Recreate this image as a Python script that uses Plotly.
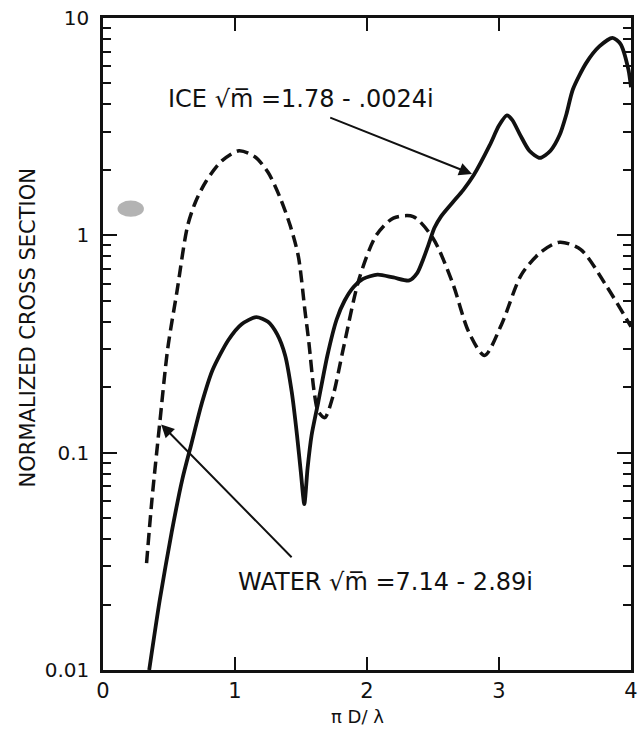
import numpy as np
import plotly.graph_objects as go

# ---- data ----
ice_x = [0.35, 0.43, 0.52, 0.60, 0.67, 0.75, 0.83, 0.95, 1.05, 1.16, 1.25, 1.32, 1.38, 1.43, 1.47, 1.50,
         1.525, 1.55, 1.58, 1.63, 1.70, 1.77, 1.83, 1.90, 1.97, 2.08, 2.20, 2.32, 2.38, 2.42, 2.47,
         2.51, 2.56, 2.65, 2.73, 2.81, 2.93, 3.00, 3.06, 3.10, 3.16, 3.23, 3.31, 3.39, 3.46, 3.51,
         3.56, 3.66, 3.76, 3.86, 3.92, 3.98, 4.00]
ice_y = [0.010, 0.021, 0.043, 0.075, 0.11, 0.17, 0.24, 0.33, 0.39, 0.42, 0.40, 0.35, 0.28, 0.19, 0.12, 0.08,
         0.058, 0.085, 0.12, 0.17, 0.28, 0.41, 0.50, 0.58, 0.63, 0.66, 0.64, 0.62, 0.67, 0.76, 0.92,
         1.08, 1.22, 1.42, 1.62, 1.9, 2.6, 3.2, 3.56, 3.4, 2.9, 2.45, 2.27, 2.45, 2.9, 3.6,
         4.7, 6.2, 7.4, 8.1, 7.6, 5.8, 4.8]

water_x = [0.33, 0.37, 0.43, 0.49, 0.56, 0.64, 0.70, 0.78, 0.90, 1.03, 1.15, 1.25, 1.34, 1.42, 1.48,
           1.53, 1.56, 1.60, 1.63, 1.68, 1.74, 1.82, 1.94, 2.07, 2.20, 2.35, 2.50, 2.65, 2.77, 2.89,
           3.02, 3.17, 3.32, 3.46, 3.62, 3.81, 4.00]
water_y = [0.031, 0.06, 0.137, 0.30, 0.55, 1.10, 1.42, 1.77, 2.2, 2.45, 2.3, 1.95, 1.5, 1.1, 0.80,
           0.45, 0.32, 0.19, 0.155, 0.145, 0.18, 0.30, 0.63, 1.0, 1.2, 1.22, 0.97, 0.6, 0.36, 0.28,
           0.39, 0.66, 0.84, 0.93, 0.86, 0.59, 0.38]

x_ticks = [0, 1, 2, 3, 4]
x_ticktext = ["0", "1", "2", "3", "4"]
y_major = [0.01, 0.1, 1, 10]
y_major_text = ["0.01", "0.1", "1", "10"]
y_minor = [m * 10.0 ** e for e in (-2, -1, 0) for m in range(2, 10)]

x_title = "π D/ λ"
y_title = "NORMALIZED CROSS SECTION"
ice_text = "ICE √m\u0305 =1.78 - .0024i"
water_text = "WATER √m\u0305 =7.14 - 2.89i"

FONT = "DejaVu Sans"
INK = "#111111"

fig = go.Figure()
fig.add_trace(go.Scatter(x=water_x, y=water_y, mode="lines",
                         line=dict(color=INK, width=3.5, dash="12px,6px", shape="spline", smoothing=0.8),
                         hoverinfo="skip", showlegend=False))
fig.add_trace(go.Scatter(x=ice_x, y=ice_y, mode="lines",
                         line=dict(color=INK, width=3.8, shape="spline", smoothing=0.7),
                         hoverinfo="skip", showlegend=False))
# empty helper trace so the overlay axis carrying the long decade ticks is drawn
fig.add_trace(go.Scatter(x=[None], y=[None], yaxis="y2", mode="lines",
                         hoverinfo="skip", showlegend=False))

all_y_ticks = y_major + y_minor
all_y_text = y_major_text + [""] * len(y_minor)

fig.update_layout(
    width=644, height=730,
    margin=dict(l=103, r=6, t=15, b=60),
    paper_bgcolor="white", plot_bgcolor="white",
    font=dict(family=FONT, color=INK),
    xaxis=dict(range=[0, 4], tickvals=x_ticks, ticktext=x_ticktext,
               showgrid=False, zeroline=False, showline=True, linecolor=INK, linewidth=2.5,
               mirror="ticks", ticks="inside", ticklen=13, tickwidth=2, tickcolor=INK,
               tickfont=dict(size=21, family=FONT)),
    yaxis=dict(type="log", range=[-2, 1], tickvals=all_y_ticks, ticktext=all_y_text,
               showgrid=False, zeroline=False, showline=True, linecolor=INK, linewidth=2.5,
               mirror="ticks", ticks="inside", ticklen=8, tickwidth=2, tickcolor=INK,
               tickfont=dict(size=20, family=FONT), ticklabelstandoff=7),
    yaxis2=dict(type="log", range=[-2, 1], overlaying="y", side="left", tickvals=y_major,
                showticklabels=False, showgrid=False, zeroline=False, showline=True,
                linecolor=INK, linewidth=2.5, mirror="ticks", ticks="inside", ticklen=14,
                tickwidth=2, tickcolor=INK),
)

# axis titles
fig.add_annotation(x=-0.142, y=0.524, xref="paper", yref="paper", xanchor="center", yanchor="middle",
                   text=y_title, textangle=-90, showarrow=False,
                   font=dict(size=21, family=FONT, color=INK))
fig.add_annotation(x=0.482, y=-0.071, xref="paper", yref="paper", xanchor="center", yanchor="middle",
                   text=x_title, showarrow=False, font=dict(size=18, family=FONT, color=INK))

# curve labels and arrows (log axis: y given as log10)
ice_label_x, ice_label_y = 0.48, 10 ** 0.626
ice_tail_x, ice_tail_y = 1.71, 3.5
ice_head_x, ice_head_y = 2.81, 1.9
water_label_x, water_label_y = 1.01, 10 ** -1.594
water_tail_x, water_tail_y = 1.44, 0.0325
water_head_x, water_head_y = 0.43, 0.137

fig.add_annotation(x=ice_label_x, y=np.log10(ice_label_y), xanchor="left", yanchor="middle",
                   text=ice_text, showarrow=False, font=dict(size=24, family=FONT, color=INK))
fig.add_annotation(x=ice_head_x, y=np.log10(ice_head_y), ax=ice_tail_x, ay=np.log10(ice_tail_y),
                   axref="x", ayref="y", xref="x", yref="y", text="", showarrow=True,
                   arrowhead=2, arrowsize=1.3, arrowwidth=2, arrowcolor=INK, standoff=2)
fig.add_annotation(x=water_label_x, y=np.log10(water_label_y), xanchor="left", yanchor="middle",
                   text=water_text, showarrow=False, font=dict(size=24, family=FONT, color=INK))
fig.add_annotation(x=water_head_x, y=np.log10(water_head_y), ax=water_tail_x, ay=np.log10(water_tail_y),
                   axref="x", ayref="y", xref="x", yref="y", text="", showarrow=True,
                   arrowhead=2, arrowsize=1.3, arrowwidth=2, arrowcolor=INK, standoff=2)

# small stippled smudge near the left axis
fig.add_shape(type="circle", xref="x", yref="paper", x0=0.11, x1=0.31, y0=0.695, y1=0.72,
              fillcolor="#9a9a9a", line=dict(width=0), opacity=0.75)

fig.write_html("out.html")
